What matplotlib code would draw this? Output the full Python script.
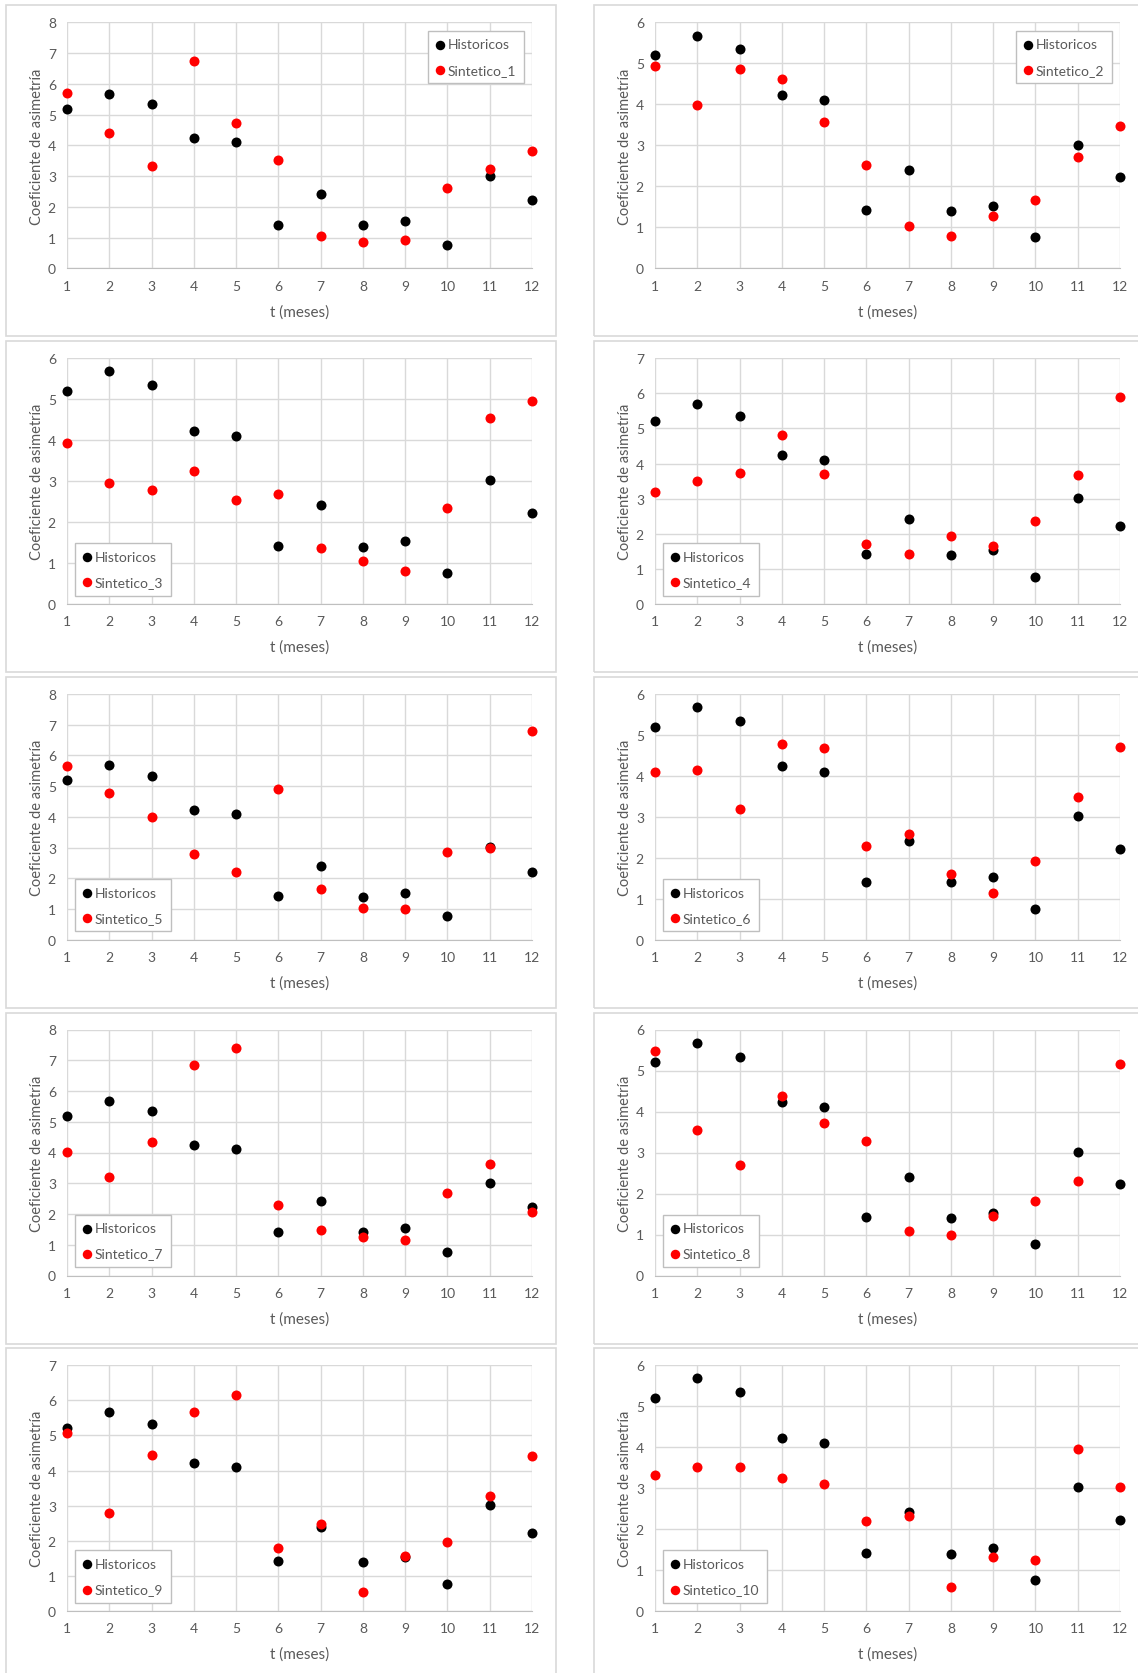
import numpy as np
import matplotlib
matplotlib.use("Agg")
import matplotlib.pyplot as plt
from matplotlib.patches import Rectangle

plt.rcParams['font.family'] = ['Lato', 'DejaVu Sans']

meses = [1, 2, 3, 4, 5, 6, 7, 8, 9, 10, 11, 12]
historicos = [5.20, 5.68, 5.34, 4.23, 4.10, 1.42, 2.41, 1.40, 1.53, 0.76, 3.02, 2.22]

sintetico_1 = [5.70, 4.39, 3.32, 6.76, 4.73, 3.52, 1.06, 0.87, 0.92, 2.62, 3.22, 3.82]
sintetico_2 = [4.94, 3.99, 4.87, 4.61, 3.56, 2.52, 1.04, 0.80, 1.28, 1.66, 2.72, 3.47]
sintetico_3 = [3.93, 2.96, 2.78, 3.25, 2.53, 2.69, 1.36, 1.06, 0.80, 2.35, 4.54, 4.95]
sintetico_4 = [3.18, 3.50, 3.72, 4.80, 3.70, 1.72, 1.42, 1.93, 1.65, 2.36, 3.68, 5.90]
sintetico_5 = [5.65, 4.76, 3.98, 2.78, 2.22, 4.91, 1.65, 1.03, 0.99, 2.87, 3.00, 6.78]
sintetico_6 = [4.09, 4.13, 3.18, 4.78, 4.68, 2.28, 2.59, 1.60, 1.15, 1.92, 3.49, 4.71]
sintetico_7 = [4.02, 3.20, 4.35, 6.84, 7.39, 2.29, 1.47, 1.26, 1.14, 2.69, 3.63, 2.08]
sintetico_8 = [5.47, 3.55, 2.70, 4.37, 3.71, 3.28, 1.09, 0.98, 1.44, 1.81, 2.31, 5.15]
sintetico_9 = [5.06, 2.79, 4.44, 5.67, 6.16, 1.79, 2.47, 0.55, 1.57, 1.97, 3.27, 4.42]
sintetico_10 = [3.31, 3.52, 3.52, 3.24, 3.11, 2.21, 2.33, 0.60, 1.31, 1.24, 3.95, 3.04]

sinteticos = [sintetico_1, sintetico_2, sintetico_3, sintetico_4, sintetico_5,
              sintetico_6, sintetico_7, sintetico_8, sintetico_9, sintetico_10]
y_max = [8, 6, 6, 7, 8, 6, 8, 6, 7, 6]
legend_loc = ['upper right', 'upper right'] + ['lower left'] * 8

W, H = 1138, 1674
TEXT = '#595959'
GRID = '#d9d9d9'

fig = plt.figure(figsize=(W / 100, H / 100), dpi=100)


def fx(px):
    return px / W


def fy(py):
    return 1 - py / H


for i, sint in enumerate(sinteticos):
    row, col = divmod(i, 2)
    bx = 6 if col == 0 else 594
    by = 6.4 + row * 335.7
    bw, bh = (550, 331) if col == 0 else (560, 331)
    # marco gris de cada grafico, como en Excel
    fig.patches.append(Rectangle((fx(bx), fy(by + bh)), bw / W, bh / H,
                                 transform=fig.transFigure, fill=False,
                                 edgecolor=GRID, linewidth=1.2))

    left, right = bx + 61, bx + 526
    top, bottom = by + 17, by + 263
    ax = fig.add_axes([fx(left), fy(bottom), (right - left) / W, (bottom - top) / H])

    ax.scatter(meses, historicos, s=52, color='black', linewidths=0,
               zorder=3, clip_on=False, label='Historicos')
    ax.scatter(meses, sint, s=52, color='#ff0000', linewidths=0,
               zorder=4, clip_on=False, label=f'Sintetico_{i + 1}')

    ax.set_xlim(1, 12)
    ax.set_ylim(0, y_max[i])
    ax.set_xticks(meses)
    ax.set_yticks(range(0, y_max[i] + 1))
    ax.grid(True, color=GRID, linewidth=1)
    ax.set_axisbelow(True)
    for s in ['top', 'right', 'left']:
        ax.spines[s].set_visible(False)
    ax.spines['bottom'].set_color('#bfbfbf')
    ax.tick_params(length=0, labelsize=10, labelcolor=TEXT)
    ax.tick_params(axis='x', pad=8)
    ax.tick_params(axis='y', pad=8)
    ax.set_xlabel('t (meses)', fontsize=11, color=TEXT, labelpad=9)
    ax.set_ylabel('Coeficiente de asimetría', fontsize=10.5, color=TEXT, labelpad=3)

    leg = ax.legend(loc=legend_loc[i], fontsize=10, frameon=True, fancybox=False,
                    edgecolor='#bfbfbf', framealpha=1, handlelength=0.6,
                    handletextpad=0.25, labelspacing=0.95, borderpad=0.55,
                    borderaxespad=0.6, markerscale=0.95)
    leg.get_frame().set_linewidth(1)
    for t in leg.get_texts():
        t.set_color(TEXT)

fig.savefig('out.png', dpi=100)
